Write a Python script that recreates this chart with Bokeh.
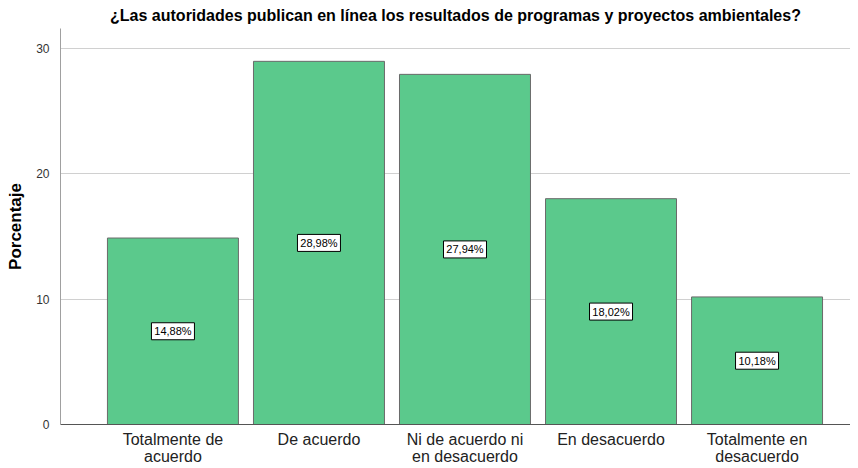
from bokeh.plotting import figure
from bokeh.models import ColumnDataSource, FixedTicker, Range1d
from bokeh.core.properties import value
from bokeh.embed import file_html
from bokeh.resources import INLINE

categories = ["Totalmente de\nacuerdo", "De acuerdo", "Ni de acuerdo ni\nen desacuerdo",
              "En desacuerdo", "Totalmente en\ndesacuerdo"]
values = [14.88, 28.98, 27.94, 18.02, 10.18]
labels = ["14,88%", "28,98%", "27,94%", "18,02%", "10,18%"]
y_ticks = [0, 10, 20, 30]

xs = list(range(len(categories)))
src = ColumnDataSource(dict(x=xs, top=values, mid=[v / 2 for v in values], lab=labels))

p = figure(width=850, height=468, output_backend="svg", toolbar_location=None,
           x_range=Range1d(-0.77, 4.64), y_range=Range1d(0, 31.6),
           min_border_left=60, min_border_right=0, min_border_top=28, min_border_bottom=40)

p.title.text = "¿Las autoridades publican en línea los resultados de programas y proyectos ambientales?"
p.title.align = "center"
p.title.text_font = "Liberation Sans"
p.title.text_font_size = "16px"
p.title.text_font_style = "bold"
p.title.text_color = "#000000"
p.title.offset = 13
p.title.standoff = 9

p.vbar(x="x", top="top", width=0.897, bottom=0, source=src,
       fill_color="#5bc98c", line_color="#6a6a6a", line_width=1)

p.rect(x="x", y="mid", width=43, height=17, width_units="screen", height_units="screen",
       source=src, fill_color="white", line_color="#000000", line_width=1)
p.text(x="x", y="mid", text="lab", source=src, text_align="center", text_baseline="middle",
       text_font=value("Liberation Sans"), text_font_size="11px", text_color="#000000")

p.xaxis.ticker = FixedTicker(ticks=xs)
p.xaxis.major_label_overrides = {i: c for i, c in zip(xs, categories)}
p.xaxis.major_label_text_font = "Liberation Sans"
p.xaxis.major_label_text_font_size = "16px"
p.xaxis.major_label_text_color = "#222222"
p.xaxis.major_label_text_line_height = 1.05
p.xaxis.major_tick_line_color = None
p.xaxis.minor_tick_line_color = None
p.xaxis.axis_line_color = "#555555"
p.xaxis.major_label_standoff = 0

p.yaxis.ticker = FixedTicker(ticks=y_ticks)
p.yaxis.axis_label = "Porcentaje"
p.yaxis.axis_label_text_font = "Liberation Sans"
p.yaxis.axis_label_text_font_size = "17px"
p.yaxis.axis_label_text_font_style = "bold"
p.yaxis.axis_label_text_color = "#000000"
p.yaxis.axis_label_standoff = 8
p.yaxis.major_label_text_font = "Liberation Sans"
p.yaxis.major_label_text_font_size = "12px"
p.yaxis.major_label_text_color = "#333333"
p.yaxis.major_label_standoff = 5
p.yaxis.axis_line_color = "#a0a0a0"
p.yaxis.major_tick_line_color = None
p.yaxis.minor_tick_line_color = None

p.xgrid.grid_line_color = None
p.ygrid.grid_line_color = "#d0d0d0"
p.outline_line_color = None

open("out.html", "w").write(file_html(p, INLINE))
